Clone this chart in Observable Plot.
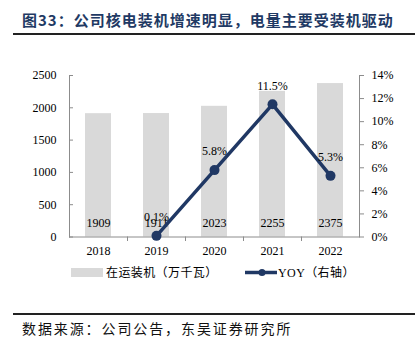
<!DOCTYPE html>
<html><head><meta charset="utf-8">
<script src="https://cdn.jsdelivr.net/npm/d3@7"></script>
<script src="https://cdn.jsdelivr.net/npm/@observablehq/plot@0.6"></script>
<style>
body{margin:0;background:#fff;}
#wrap{position:relative;width:418px;height:350px;overflow:hidden;background:#fff;}
#wrap > svg{position:absolute;left:0;top:0;}
.abs{position:absolute;white-space:nowrap;}
#title{left:22px;top:10px;font:bold 15px "Noto Sans CJK SC",sans-serif;color:#1f3a64;letter-spacing:1px;line-height:20px;}
.hr{position:absolute;left:13px;width:402px;background:#222;}
.cjk{font-family:"Liberation Serif","Noto Sans CJK SC",serif;}
#source{left:22px;top:318px;font:14px "Noto Sans CJK SC",sans-serif;letter-spacing:1.9px;line-height:20px;color:#111;}
.leg{font-size:12px;line-height:16px;color:#000;letter-spacing:0.4px;}
</style>
</head><body>
<div id="wrap"></div>
<script>
// ---- data ----
const years = ["2018", "2019", "2020", "2021", "2022"];
const installed = [1909, 1911, 2023, 2255, 2375];          // 在运装机（万千瓦）
const yoyYears = ["2019", "2020", "2021", "2022"];
const yoy = [0.1, 5.8, 11.5, 5.3];                          // YOY %（右轴）
const leftTicks = [0, 500, 1000, 1500, 2000, 2500];
const rightTicks = [0, 2, 4, 6, 8, 10, 12, 14];
const titleText = "图33：公司核电装机增速明显，电量主要受装机驱动";
const sourceText = "数据来源：公司公告，东吴证券研究所";
const legendBar = "在运装机（万千瓦）";
const legendLine = "YOY（右轴）";

const Y_MAX = 2500, R_MAX = 14;
const toLeft = v => v * Y_MAX / R_MAX;

const bars = years.map((y, i) => ({year: y, value: installed[i]}));
const lineData = yoyYears.map((y, i) => ({year: y, yoy: yoy[i]}));

const navy = "#203864";
const axisColor = "#8c8c8c";
const barColor = "#d9d9d9";

const chart = Plot.plot({
  width: 418, height: 350,
  marginLeft: 69, marginRight: 59, marginTop: 75, marginBottom: 113.5,
  style: {fontFamily: "'Liberation Serif', serif", fontSize: "12px", color: "#000", background: "transparent"},
  x: {domain: years, paddingInner: 0.55, paddingOuter: 0.275, label: null},
  y: {domain: [0, Y_MAX], label: null},
  marks: [
    Plot.barY(bars, {x: "year", y: "value", fill: barColor}),
    Plot.text(bars, {x: "year", y: () => 0, text: d => String(d.value), dy: -14, fill: "#000"}),
    Plot.frame({anchor: "left", stroke: axisColor}),
    Plot.frame({anchor: "right", stroke: axisColor}),
    Plot.frame({anchor: "bottom", stroke: axisColor}),
    Plot.ruleX(years.slice(1), {x: d => d, y1: 0, y2: -Y_MAX * 4.5 / 161.5, dx: -29, stroke: axisColor}),
    Plot.axisY(leftTicks, {anchor: "left", tickSize: 4, dx: 4, tickPadding: 13, stroke: axisColor, fill: "#000", tickFormat: d => String(d), label: null}),
    Plot.axisY(rightTicks.map(toLeft), {anchor: "right", tickSize: 4, tickPadding: 8, stroke: axisColor, fill: "#000", tickFormat: d => Math.round(d * R_MAX / Y_MAX) + "%", label: null}),
    Plot.axisX({tickSize: 0, tickPadding: 9, fill: "#000", label: null}),
    Plot.line(lineData, {x: "year", y: d => toLeft(d.yoy), stroke: navy, strokeWidth: 3.5}),
    Plot.dot(lineData, {x: "year", y: d => toLeft(d.yoy), r: 5, fill: navy, stroke: "none"}),
    Plot.text(lineData, {x: "year", y: d => toLeft(d.yoy), text: d => d.yoy.toFixed(1) + "%", dy: -18.5, fill: "#000"})
  ]
});

const wrap = document.getElementById("wrap");
wrap.appendChild(chart);

function add(html) { wrap.insertAdjacentHTML("beforeend", html); }
add(`<div id="title" class="abs">${titleText}</div>`);
add(`<div class="hr" style="top:33px;height:2px"></div>`);
add(`<div class="abs" style="left:71px;top:268px;width:32px;height:9px;background:${barColor}"></div>`);
add(`<div class="abs leg cjk" style="left:106px;top:264.5px">${legendBar}</div>`);
add(`<svg class="abs" style="left:245px;top:267px" width="32" height="11"><line x1="0" x2="32" y1="5.5" y2="5.5" stroke="${navy}" stroke-width="3.5"/><circle cx="17" cy="5.5" r="3.5" fill="${navy}"/></svg>`);
add(`<div class="abs leg cjk" style="left:278px;top:264.5px">${legendLine}</div>`);
add(`<div class="hr" style="top:313px;height:1.5px"></div>`);
add(`<div id="source" class="abs">${sourceText}</div>`);
</script>
</body></html>
